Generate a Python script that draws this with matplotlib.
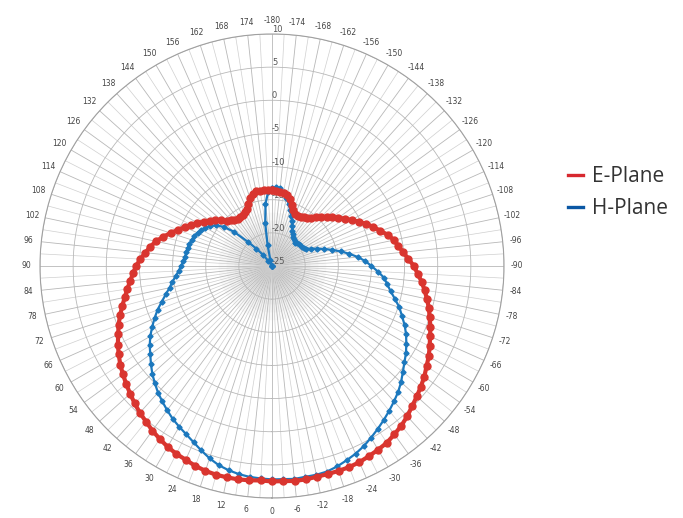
import numpy as np
import matplotlib
matplotlib.use('Agg')
import matplotlib.pyplot as plt
from matplotlib.lines import Line2D

# measurement angles (deg), 0 = boresight at bottom
angles = np.arange(-180, 180, 3)

# E-Plane gain (dBi), from -180 to 177 deg
e_plane = [
    -13.6, -13.6, -13.7, -13.9, -14.1, -14.6, -15.3, -16.0, -16.4, -16.5,
    -16.4, -16.2, -16.0, -15.6, -15.1, -14.5, -13.9, -13.3, -12.6, -11.9,
    -11.1, -10.3, -9.4, -8.6, -7.8, -6.9, -6.2, -5.7, -5.1, -4.4,
    -3.6, -3.0, -2.3, -1.7, -1.1, -0.5, 0.0, 0.6, 1.1, 1.7,
    2.3, 2.8, 3.4, 3.9, 4.4, 4.9, 5.5, 6.0, 6.4, 6.8,
    7.0, 7.2, 7.4, 7.5, 7.5, 7.5, 7.5, 7.6, 7.6, 7.5,
    7.5, 7.4, 7.5, 7.6, 7.6, 7.6, 7.5, 7.3, 7.0, 6.8,
    6.5, 6.1, 5.7, 5.2, 4.8, 4.3, 3.8, 3.3, 2.8, 2.3,
    1.7, 1.1, 0.4, -0.2, -0.9, -1.6, -2.3, -2.9, -3.5, -4.0,
    -4.5, -5.1, -5.8, -6.4, -7.1, -8.0, -8.9, -9.8, -10.6, -11.3,
    -12.0, -12.7, -13.4, -14.0, -14.7, -15.3, -15.7, -16.0, -16.2, -16.2,
    -16.1, -15.9, -15.6, -15.0, -14.2, -13.7, -13.5, -13.5, -13.5, -13.5,
]

# H-Plane gain (dBi), from -180 to 177 deg
h_plane = [
    -13.2, -13.1, -13.2, -13.7, -14.5, -15.3, -16.1, -16.9, -17.6, -18.3,
    -18.9, -19.3, -19.6, -19.8, -19.9, -20.0, -19.9, -19.8, -19.7, -19.6,
    -19.5, -19.2, -18.6, -17.7, -16.7, -15.6, -14.4, -13.2, -12.0, -10.9,
    -10.0, -9.0, -8.0, -7.4, -6.7, -5.8, -4.8, -4.0, -3.1, -2.3,
    -1.6, -0.9, -0.3, 0.4, 1.2, 1.9, 2.5, 3.1, 3.7, 4.3,
    4.9, 5.5, 6.0, 6.4, 6.8, 7.1, 7.2, 7.2, 7.3, 7.2,
    7.2, 7.1, 7.0, 6.8, 6.5, 6.1, 5.5, 4.8, 4.1, 3.5,
    3.0, 2.5, 1.9, 1.3, 0.7, 0.0, -0.7, -1.5, -2.3, -3.0,
    -3.8, -4.7, -5.6, -6.5, -7.5, -8.4, -9.2, -9.8, -10.4, -10.9,
    -11.3, -11.6, -11.8, -11.9, -12.0, -12.1, -12.3, -12.4, -12.7, -13.0,
    -13.4, -13.9, -14.6, -15.6, -17.3, -19.8, -21.5, -22.8, -24.0, -25.0,
    -25.0, -25.0, -25.0, -25.0, -25.0, -24.0, -21.8, -18.5, -15.6, -13.8,
]

r_ticks = [-25, -20, -15, -10, -5, 0, 5, 10]
grid_deg = np.arange(0, 360, 6)
grid_labels = [str(a) if a < 180 else str(a - 360) for a in grid_deg]

red = '#d9352f'
blue = '#1c78bd'

fig = plt.figure(figsize=(6.83, 5.18), dpi=100)
ax = fig.add_axes([40 / 683, 20 / 518, 464 / 683, 464 / 518], projection='polar')
ax.set_theta_zero_location('S')
ax.set_theta_direction(-1)
ax.set_ylim(-25, 10)

# grey haze around the centre
for s in [6000, 4400, 3000, 1900, 1100, 550, 220]:
    ax.scatter([0], [-25], s=s, color='#7a7a7a', alpha=0.045, lw=0, zorder=1)

th = np.deg2rad(np.append(angles, angles[0]))
e = np.append(e_plane, e_plane[0])
h = np.append(h_plane, h_plane[0])

ax.plot(th, h, color=blue, lw=1.6, marker='D', ms=2.6, zorder=3)
ax.plot(th, e, color=red, lw=3.0, marker='o', ms=5.0, zorder=4)

ax.set_thetagrids(grid_deg, grid_labels, fontsize=5.5, color='#444444')
ax.set_xticks(np.deg2rad(np.arange(3, 360, 6)), minor=True)
ax.tick_params(axis='x', pad=-1)
ax.set_rticks(r_ticks)
ax.set_yticklabels([str(v) for v in r_ticks], fontsize=6, color='#555555')
ax.set_rlabel_position(180)
ax.grid(True, which='major', color='#b8b8b8', lw=0.6)
ax.grid(True, which='minor', axis='x', color='#cfcfcf', lw=0.5)
ax.spines['polar'].set_color('#a0a0a0')
ax.spines['polar'].set_linewidth(0.8)

handles = [Line2D([0], [0], color='#d7282f', lw=2.4),
           Line2D([0], [0], color='#0a57a4', lw=2.4)]
fig.legend(handles, ['E-Plane', 'H-Plane'], loc='upper left',
           bbox_to_anchor=(568 / 683, 1 - 166 / 518), frameon=False,
           borderpad=0, borderaxespad=0, prop={'family': 'Open Sans', 'size': 15},
           handlelength=0.7, handletextpad=0.45, labelspacing=0.55,
           labelcolor='#333333')

fig.savefig('out.png', dpi=100)
